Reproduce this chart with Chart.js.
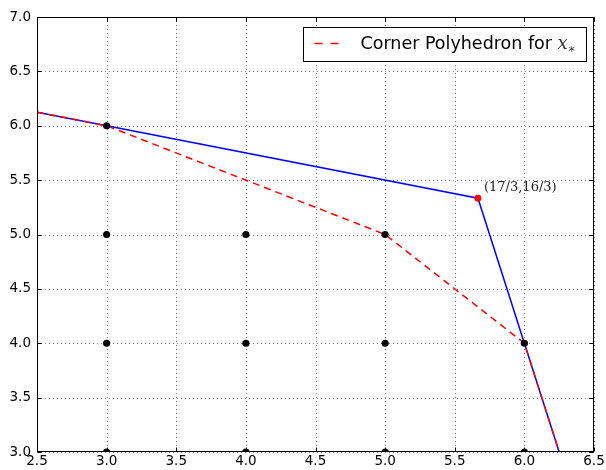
<!DOCTYPE html>
<html>
<head>
<meta charset="utf-8">
<script src="https://cdn.jsdelivr.net/npm/chart.js@4/dist/chart.umd.min.js"></script>
<style>
  html, body { margin: 0; padding: 0; background: #fff; }
  #wrap { width: 606px; height: 470px; }
</style>
</head>
<body>
<div id="wrap"><canvas id="cornerChart"></canvas></div>
<script>
// integer lattice points inside the region
const latticeX = [3, 3, 4, 5, 3, 4, 5, 6, 3, 4, 5, 6];
const latticeY = [6, 5, 5, 5, 4, 4, 4, 4, 3, 3, 3, 3];

// LP boundary (blue) and corner polyhedron boundary (red dashed)
const hullX = [2.5, 3, 17 / 3, 6, 6.25];
const hullY = [6.125, 6, 16 / 3, 4, 3];
const cornerX = [2.5, 3, 5, 6, 6.25];
const cornerY = [6.125, 6, 5, 4, 3];

// fractional vertex x*
const vertexX = [17 / 3];
const vertexY = [16 / 3];
const vertexLabel = '(17/3,16/3)';

const xTicks = [2.5, 3.0, 3.5, 4.0, 4.5, 5.0, 5.5, 6.0, 6.5];
const yTicks = [3.0, 3.5, 4.0, 4.5, 5.0, 5.5, 6.0, 6.5, 7.0];

const legendLabel = 'Corner Polyhedron for ';

function toPoints(xs, ys) {
    return xs.map((x, i) => ({ x: x, y: ys[i] }));
}

// dotted grid, inward ticks on all sides, frame, annotation and legend
const framePlugin = {
    id: 'frame',
    beforeDatasetsDraw(chart) {
        const { ctx, chartArea: ca, scales } = chart;
        ctx.save();
        ctx.strokeStyle = 'rgba(0,0,0,0.5)';
        ctx.lineWidth = 1;
        ctx.setLineDash([1, 3]);
        xTicks.forEach(v => {
            const px = Math.round(scales.x.getPixelForValue(v)) + 0.5;
            ctx.beginPath();
            ctx.moveTo(px, ca.top);
            ctx.lineTo(px, ca.bottom);
            ctx.stroke();
        });
        yTicks.forEach(v => {
            const py = Math.round(scales.y.getPixelForValue(v)) + 0.5;
            ctx.beginPath();
            ctx.moveTo(ca.left, py);
            ctx.lineTo(ca.right, py);
            ctx.stroke();
        });
        ctx.restore();
    },
    afterDatasetsDraw(chart) {
        const { ctx, chartArea: ca, scales } = chart;
        ctx.save();
        ctx.strokeStyle = '#000';
        ctx.lineWidth = 1;
        ctx.setLineDash([]);
        const L = Math.round(ca.left) + 0.5, R = Math.round(ca.right) - 0.5;
        const T = Math.round(ca.top) + 0.5, B = Math.round(ca.bottom) - 0.5;
        ctx.strokeRect(L, T, R - L, B - T);

        const tl = 4;
        ctx.beginPath();
        xTicks.forEach(v => {
            const px = Math.round(scales.x.getPixelForValue(v)) + 0.5;
            ctx.moveTo(px, B); ctx.lineTo(px, B - tl);
            ctx.moveTo(px, T); ctx.lineTo(px, T + tl);
        });
        yTicks.forEach(v => {
            const py = Math.round(scales.y.getPixelForValue(v)) + 0.5;
            ctx.moveTo(L, py); ctx.lineTo(L + tl, py);
            ctx.moveTo(R, py); ctx.lineTo(R - tl, py);
        });
        ctx.stroke();

        // vertex annotation
        const vx = scales.x.getPixelForValue(vertexX[0]);
        const vy = scales.y.getPixelForValue(vertexY[0]);
        ctx.fillStyle = '#222';
        ctx.font = '13px "DejaVu Serif"';
        ctx.textBaseline = 'alphabetic';
        ctx.textAlign = 'left';
        ctx.fillText(vertexLabel, vx + 6, vy - 7);

        // legend box
        const bw = 283, bh = 34;
        const bx = Math.round(ca.right - 291) + 0.5;
        const by = Math.round(ca.top + 10) + 0.5;
        ctx.fillStyle = '#fff';
        ctx.fillRect(bx, by, bw, bh);
        ctx.strokeStyle = '#000';
        ctx.strokeRect(bx, by, bw, bh);

        ctx.strokeStyle = '#ff0000';
        ctx.lineWidth = 1.5;
        ctx.setLineDash([8, 8]);
        ctx.beginPath();
        ctx.moveTo(bx + 11, by + 16);
        ctx.lineTo(bx + 35, by + 16);
        ctx.stroke();
        ctx.setLineDash([]);

        ctx.fillStyle = '#000';
        ctx.font = '17.5px "DejaVu Sans"';
        const tx = bx + 57, ty = by + 21;
        ctx.fillText(legendLabel, tx, ty);
        const w = ctx.measureText(legendLabel).width;
        ctx.font = 'italic 18px "DejaVu Serif"';
        ctx.fillStyle = '#333';
        ctx.fillText('x', tx + w, ty);
        const wx = ctx.measureText('x').width;
        ctx.font = '12px "DejaVu Sans"';
        ctx.fillText('*', tx + w + wx + 1, ty + 6);
        ctx.restore();
    }
};

const ctx = document.getElementById('cornerChart');

new Chart(ctx, {
    type: 'scatter',
    data: {
        datasets: [
            {
                label: 'lattice',
                data: toPoints(latticeX, latticeY),
                backgroundColor: '#000',
                borderColor: '#000',
                pointRadius: 3.6,
                pointBorderWidth: 0,
                showLine: false
            },
            {
                label: 'vertex',
                data: toPoints(vertexX, vertexY),
                backgroundColor: '#ff0000',
                borderColor: '#ff0000',
                pointRadius: 3.4,
                pointBorderWidth: 0,
                showLine: false
            },
            {
                label: 'corner',
                data: toPoints(cornerX, cornerY),
                borderColor: '#ff0000',
                borderWidth: 1.5,
                borderDash: [7, 5],
                pointRadius: 0,
                showLine: true,
                tension: 0
            },
            {
                label: 'hull',
                data: toPoints(hullX, hullY),
                borderColor: '#0000ff',
                borderWidth: 1.5,
                pointRadius: 0,
                showLine: true,
                tension: 0
            }
        ]
    },
    options: {
        responsive: true,
        maintainAspectRatio: false,
        animation: false,
        events: [],
        layout: { padding: { top: 17, right: 12, left: 0, bottom: 0 } },
        scales: {
            x: {
                type: 'linear',
                min: 2.5,
                max: 6.5,
                afterBuildTicks: s => { s.ticks = xTicks.map(v => ({ value: v })); },
                afterFit: s => { s.height = 18; s.paddingLeft = 0; s.paddingRight = 0; },
                ticks: {
                    maxRotation: 0,
                    autoSkip: false,
                    padding: 1,
                    color: '#000',
                    font: { family: 'DejaVu Sans', size: 13.5 },
                    callback: v => Number(v).toFixed(1)
                },
                grid: { display: false, drawTicks: false },
                border: { display: false }
            },
            y: {
                type: 'linear',
                min: 3,
                max: 7,
                afterBuildTicks: s => { s.ticks = yTicks.map(v => ({ value: v })); },
                afterFit: s => { s.width = 37; s.paddingTop = 0; s.paddingBottom = 0; },
                ticks: {
                    autoSkip: false,
                    padding: 6,
                    color: '#000',
                    font: { family: 'DejaVu Sans', size: 13.5 },
                    callback: v => Number(v).toFixed(1)
                },
                grid: { display: false, drawTicks: false },
                border: { display: false }
            }
        },
        plugins: {
            legend: { display: false },
            tooltip: { enabled: false }
        }
    },
    plugins: [framePlugin]
});
</script>
</body>
</html>
